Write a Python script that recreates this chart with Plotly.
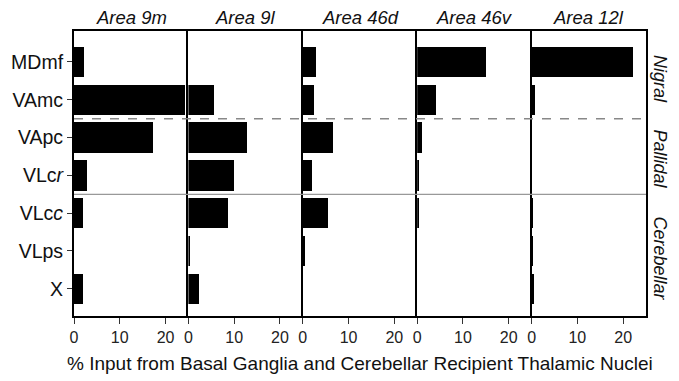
import plotly.graph_objects as go
from plotly.subplots import make_subplots

areas = ["Area 9m", "Area 9l", "Area 46d", "Area 46v", "Area 12l"]
nuclei = ["MDmf", "VAmc", "VApc", "VLcr", "VLcc", "VLps", "X"]
nucleus_labels = ["MDmf", "VAmc", "VApc", "VLc<i>r</i>", "VLc<i>c</i>", "VLps", "X"]
area_9m = [2.2, 24.2, 17.3, 2.8, 1.9, 0.0, 1.9]
area_9l = [0.0, 5.7, 12.8, 10.1, 8.8, 0.5, 2.4]
area_46d = [2.8, 2.4, 6.6, 2.0, 5.4, 0.4, 0.0]
area_46v = [15.1, 4.2, 1.2, 0.4, 0.3, 0.0, 0.0]
area_12l = [22.1, 0.6, 0.0, 0.0, 0.2, 0.2, 0.5]
series = [area_9m, area_9l, area_46d, area_46v, area_12l]
groups = ["Nigral", "Pallidal", "Cerebellar"]
group_centers = [0.45, 2.55, 5.2]
x_ticks = [0, 10, 20]
x_title = "% Input from Basal Ganglia and Cerebellar Recipient Thalamic Nuclei"

FONT = "Liberation Sans, Arial, sans-serif"
ypos = list(range(len(nuclei)))

fig = make_subplots(rows=1, cols=5, shared_yaxes=True, horizontal_spacing=0)
for i, vals in enumerate(series):
    fig.add_trace(go.Bar(x=vals, y=ypos, orientation="h", width=0.8,
                         marker=dict(color="black", line=dict(width=0)),
                         showlegend=False, hoverinfo="x"), row=1, col=i + 1)
    fig.update_xaxes(range=[0, 25], tickvals=x_ticks, ticks="outside", ticklen=6,
                     tickwidth=1, tickcolor="#333", showline=True, linecolor="black",
                     linewidth=2, mirror=True, showgrid=False, zeroline=False,
                     automargin=False,
                     tickfont=dict(size=16, color="#222", family=FONT),
                     row=1, col=i + 1)
    fig.add_annotation(text="<i>%s</i>" % areas[i], xref="x%s domain" % ("" if i == 0 else i + 1),
                       yref="paper", x=0.5, y=1.0, yshift=1, yanchor="bottom",
                       showarrow=False, font=dict(size=18.5, color="#111", family=FONT))

fig.update_yaxes(range=[6.72, -0.82], tickvals=ypos, ticktext=nucleus_labels,
                 showgrid=False, zeroline=False, showline=True, linecolor="black",
                 linewidth=2, mirror=False, ticks="", automargin=False)
for c in range(2, 6):
    fig.update_yaxes(showticklabels=False, ticks="", row=1, col=c)
fig.update_yaxes(mirror=True, row=1, col=5)
fig.update_yaxes(ticks="outside", ticklen=5, tickcolor="#333", showticklabels=True,
                 tickfont=dict(size=19.5, color="#111", family=FONT), row=1, col=1)

fig.add_shape(type="line", xref="paper", yref="y", x0=0, x1=1, y0=1.5, y1=1.5,
              line=dict(color="#888", width=1.5, dash="dash"), layer="above")
fig.add_shape(type="line", xref="paper", yref="y", x0=0, x1=1, y0=3.5, y1=3.5,
              line=dict(color="#999", width=1.2), layer="above")

for g, yc in zip(groups, group_centers):
    fig.add_annotation(text="<i>%s</i>" % g, xref="paper", yref="y", x=1.0, y=yc,
                       xshift=2, xanchor="left", textangle=90, showarrow=False,
                       font=dict(size=18, color="#111", family=FONT))

fig.add_annotation(text=x_title, xref="paper", yref="paper", x=0.5, y=0, yshift=-60,
                   yanchor="bottom", showarrow=False,
                   font=dict(size=19, color="#111", family=FONT))

fig.update_layout(width=679, height=381, margin=dict(l=74, r=33, t=31, b=65),
                  plot_bgcolor="white", paper_bgcolor="white", bargap=0,
                  font=dict(family=FONT))
fig.write_html("out.html", config={"displayModeBar": False},
               post_script="document.body.style.margin='0px';")
